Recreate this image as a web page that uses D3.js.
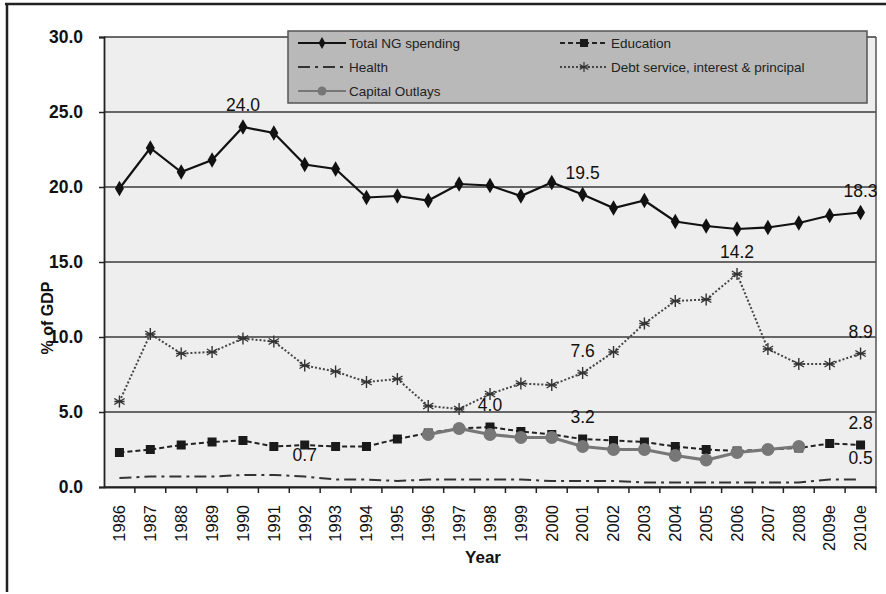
<!DOCTYPE html>
<html>
<head>
<meta charset="utf-8">
<script src="https://cdn.jsdelivr.net/npm/d3@7"></script>
<style>
  html, body { margin: 0; padding: 0; background: #fff; }
  svg { display: block; font-family: Arial, "Liberation Sans", sans-serif; }
</style>
</head>
<body>
<svg id="chart" width="886" height="594"></svg>
<script>
const years = ["1986","1987","1988","1989","1990","1991","1992","1993","1994","1995","1996","1997","1998","1999","2000","2001","2002","2003","2004","2005","2006","2007","2008","2009e","2010e"];
const totalNG = [19.9,22.6,21.0,21.8,24.0,23.6,21.5,21.2,19.3,19.4,19.1,20.2,20.1,19.4,20.3,19.5,18.6,19.1,17.7,17.4,17.2,17.3,17.6,18.1,18.3];
const education = [2.3,2.5,2.8,3.0,3.1,2.7,2.8,2.7,2.7,3.2,3.6,3.9,4.0,3.7,3.5,3.2,3.1,3.0,2.7,2.5,2.4,2.5,2.6,2.9,2.8];
const health = [0.6,0.7,0.7,0.7,0.8,0.8,0.7,0.5,0.5,0.4,0.5,0.5,0.5,0.5,0.4,0.4,0.4,0.3,0.3,0.3,0.3,0.3,0.3,0.5,0.5];
const debt = [5.7,10.2,8.9,9.0,9.9,9.7,8.1,7.7,7.0,7.2,5.4,5.2,6.2,6.9,6.8,7.6,9.0,10.9,12.4,12.5,14.2,9.2,8.2,8.2,8.9];
const capital = [null,null,null,null,null,null,null,null,null,null,3.5,3.9,3.5,3.3,3.3,2.7,2.5,2.5,2.1,1.8,2.3,2.5,2.7,null,null];
const yTicks = [0,5,10,15,20,25,30];
const labels = [
  {series: "total", year: "1990", text: "24.0"},
  {series: "total", year: "2001", text: "19.5"},
  {series: "total", year: "2010e", text: "18.3"},
  {series: "debt", year: "2006", text: "14.2"},
  {series: "debt", year: "2001", text: "7.6"},
  {series: "debt", year: "2010e", text: "8.9"},
  {series: "education", year: "1998", text: "4.0"},
  {series: "education", year: "2001", text: "3.2"},
  {series: "education", year: "2010e", text: "2.8"},
  {series: "health", year: "1992", text: "0.7"},
  {series: "health", year: "2010e", text: "0.5"}
];

const seriesMap = {total: totalNG, education: education, health: health, debt: debt, capital: capital};

const svg = d3.select("#chart");
const L = 104, R = 876, T = 37, B = 487;

const x = d3.scaleBand().domain(years).range([L, R]).paddingInner(0).paddingOuter(0);
const bw = x.bandwidth();
const cx = d => x(d) + bw / 2;
const y = d3.scaleLinear().domain([0, 30]).range([B, T]);

// outer frame (top and left only)
svg.append("line").attr("x1", 5).attr("x2", 886).attr("y1", 4).attr("y2", 4).attr("stroke", "#222").attr("stroke-width", 2.5);
svg.append("line").attr("x1", 7).attr("x2", 7).attr("y1", 3).attr("y2", 592).attr("stroke", "#222").attr("stroke-width", 2.5);

// plot background
svg.append("rect").attr("x", L).attr("y", T).attr("width", R - L).attr("height", B - T).attr("fill", "#eeeeee");

// gridlines
svg.append("g").selectAll("line").data(yTicks).join("line")
  .attr("x1", L).attr("x2", R).attr("y1", d => y(d)).attr("y2", d => y(d))
  .attr("stroke", "#3a3a3a").attr("stroke-width", 1.5);

// right border
svg.append("line").attr("x1", R).attr("x2", R).attr("y1", T).attr("y2", B).attr("stroke", "#555").attr("stroke-width", 1.5);

// y axis
const yAxis = d3.axisLeft(y).tickValues(yTicks).tickSize(5).tickPadding(16).tickFormat(d3.format(".1f"));
const gy = svg.append("g").attr("transform", `translate(${L},0)`).call(yAxis);
gy.attr("font-size", null).attr("font-family", null);
gy.select(".domain").attr("stroke", "#222").attr("stroke-width", 1.8);
gy.selectAll(".tick line").attr("stroke", "#222").attr("stroke-width", 1.5);
gy.selectAll(".tick text").style("font-size", "17.5px").style("font-weight", "bold").attr("fill", "#111").style("font-family", "Arial, 'Liberation Sans', sans-serif");

// x axis: labels via axis, boundary ticks separately
const xAxis = d3.axisBottom(x).tickSize(0).tickPadding(0);
const gx = svg.append("g").attr("transform", `translate(0,${B})`).call(xAxis);
gx.attr("font-size", null).attr("font-family", null);
gx.select(".domain").attr("stroke", "#222").attr("stroke-width", 1.8);
gx.selectAll(".tick text")
  .attr("transform", "rotate(-90)")
  .attr("text-anchor", "end")
  .attr("x", -18).attr("y", 0).attr("dy", "0.35em")
  .style("font-size", "16.5px").attr("fill", "#111")
  .style("font-family", "Arial, 'Liberation Sans', sans-serif");
svg.append("g").selectAll("line").data(years).join("line")
  .attr("x1", d => x(d) + bw).attr("x2", d => x(d) + bw)
  .attr("y1", B).attr("y2", B + 6)
  .attr("stroke", "#222").attr("stroke-width", 1.5);

// axis titles
svg.append("text").attr("x", 483).attr("y", 563).attr("text-anchor", "middle")
  .attr("font-size", 17).attr("font-weight", "bold").attr("fill", "#111").text("Year");
svg.append("text").attr("transform", "translate(53,318) rotate(-90)").attr("text-anchor", "middle")
  .attr("font-size", 16).attr("font-weight", "bold").attr("fill", "#111").text("% of GDP");

// line generator
const lineGen = d3.line().defined(d => d.v != null).x(d => cx(d.k)).y(d => y(d.v));
const toPts = arr => years.map((k, i) => ({k, v: arr[i]}));

const styles = {
  total: {stroke: "#111", width: 2.2, dash: null},
  education: {stroke: "#222", width: 2, dash: "5,3"},
  health: {stroke: "#333", width: 2, dash: "12,5,3,5"},
  debt: {stroke: "#444", width: 2, dash: "2,2"},
  capital: {stroke: "#777", width: 3.2, dash: null}
};

function drawLine(key) {
  const s = styles[key];
  svg.append("path").datum(toPts(seriesMap[key]))
    .attr("d", lineGen).attr("fill", "none")
    .attr("stroke", s.stroke).attr("stroke-width", s.width)
    .attr("stroke-dasharray", s.dash);
}

const asterisk = (r) => {
  let p = "";
  [0, 60, 120].forEach(a => {
    const rad = a * Math.PI / 180;
    const dx = Math.sin(rad) * r, dy = Math.cos(rad) * r;
    p += `M${-dx},${-dy}L${dx},${dy}`;
  });
  p += `M${-r * 0.85},0L${r * 0.85},0`;
  return p;
};

function drawMarkers(key) {
  const pts = toPts(seriesMap[key]).filter(d => d.v != null);
  const g = svg.append("g");
  if (key === "total") {
    g.selectAll("path").data(pts).join("path")
      .attr("transform", d => `translate(${cx(d.k)},${y(d.v)})`)
      .attr("d", d3.symbol(d3.symbolDiamond, 70)).attr("fill", "#111");
  } else if (key === "education") {
    g.selectAll("rect").data(pts).join("rect")
      .attr("x", d => cx(d.k) - 4.5).attr("y", d => y(d.v) - 4.5)
      .attr("width", 9).attr("height", 9).attr("fill", "#1a1a1a");
  } else if (key === "debt") {
    g.selectAll("path").data(pts).join("path")
      .attr("transform", d => `translate(${cx(d.k)},${y(d.v)})`)
      .attr("d", asterisk(6)).attr("stroke", "#333").attr("stroke-width", 1.4).attr("fill", "none");
  } else if (key === "capital") {
    g.selectAll("circle").data(pts).join("circle")
      .attr("cx", d => cx(d.k)).attr("cy", d => y(d.v)).attr("r", 6.5).attr("fill", "#777");
  }
}

["health", "debt", "education", "total"].forEach(k => { drawLine(k); drawMarkers(k); });
drawLine("capital"); drawMarkers("capital");

// data labels
svg.append("g").selectAll("text").data(labels).join("text")
  .attr("x", d => cx(d.year))
  .attr("y", d => y(seriesMap[d.series][years.indexOf(d.year)]) - 16)
  .attr("text-anchor", "middle")
  .attr("font-size", 17.5).attr("fill", "#111")
  .text(d => d.text);

// legend
const leg = svg.append("g");
leg.append("rect").attr("x", 288).attr("y", 31).attr("width", 579).attr("height", 72)
  .attr("fill", "#b9b9b9").attr("stroke", "#555").attr("stroke-width", 1.5);
const legendItems = [
  {key: "total", name: "Total NG spending", col: 0, row: 0},
  {key: "education", name: "Education", col: 1, row: 0},
  {key: "health", name: "Health", col: 0, row: 1},
  {key: "debt", name: "Debt service, interest & principal", col: 1, row: 1},
  {key: "capital", name: "Capital Outlays", col: 0, row: 2}
];
const colX = [298, 560];
const rowY = [43, 67, 91];
legendItems.forEach(it => {
  const x0 = colX[it.col], yy = rowY[it.row], x1 = x0 + 48;
  const s = styles[it.key];
  leg.append("line").attr("x1", x0).attr("x2", x1).attr("y1", yy).attr("y2", yy)
    .attr("stroke", s.stroke).attr("stroke-width", Math.min(s.width, 2.2)).attr("stroke-dasharray", s.dash);
  const mx = (x0 + x1) / 2;
  if (it.key === "total") leg.append("path").attr("transform", `translate(${mx},${yy})`).attr("d", d3.symbol(d3.symbolDiamond, 40)).attr("fill", "#111");
  if (it.key === "education") leg.append("rect").attr("x", mx - 4).attr("y", yy - 4).attr("width", 8).attr("height", 8).attr("fill", "#1a1a1a");
  if (it.key === "debt") leg.append("path").attr("transform", `translate(${mx},${yy})`).attr("d", asterisk(5)).attr("stroke", "#333").attr("stroke-width", 1.2);
  if (it.key === "capital") leg.append("circle").attr("cx", mx).attr("cy", yy).attr("r", 4.5).attr("fill", "#777");
  leg.append("text").attr("x", x1 + 3).attr("y", yy).attr("dy", "0.35em")
    .attr("font-size", 13.5).attr("fill", "#222").text(it.name);
});
</script>
</body>
</html>
